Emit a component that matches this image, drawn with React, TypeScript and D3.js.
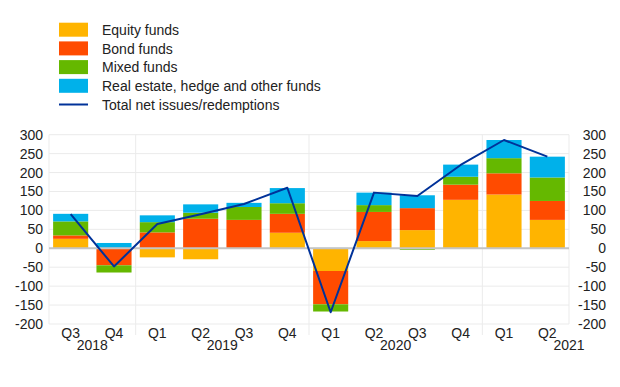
import * as d3 from 'd3';
import { useEffect, useRef } from 'react';

const quarters = ['Q3', 'Q4', 'Q1', 'Q2', 'Q3', 'Q4', 'Q1', 'Q2', 'Q3', 'Q4', 'Q1', 'Q2'];
const years = [
  { label: '2018', from: 0, to: 2 },
  { label: '2019', from: 2, to: 6 },
  { label: '2020', from: 6, to: 10 },
  { label: '2021', from: 10, to: 12 },
];

const equity = [25, 0, -24, -29, -1, 41, -60, 19, 48, 128, 142, 75];
const bond = [9, -45, 42, 78, 75, 50, -88, 77, 58, 40, 56, 50];
const mixed = [37, -19, 27, 16, 34, 28, -19, 18, -4, 21, 40, 62];
const realEstate = [20, 14, 18, 22, 11, 40, 1, 33, 34, 32, 48, 55];
const total = [90, -48, 64, 90, 117, 160, -169, 147, 138, 220, 286, 242];

const seriesKeys = ['equity', 'bond', 'mixed', 'real'];
const seriesNames = ['Equity funds', 'Bond funds', 'Mixed funds', 'Real estate, hedge and other funds'];
const colors = ['#ffb400', '#ff4b00', '#65b800', '#00b1ea'];
const lineColor = '#003299';

const yTicks = [300, 250, 200, 150, 100, 50, 0, -50, -100, -150, -200];

const W = 620;
const H = 387;
const font = '"Liberation Sans", Arial, sans-serif';

export default function App() {
  const svgRef = useRef<SVGSVGElement | null>(null);

  useEffect(() => {
    const svg = d3.select(svgRef.current);
    svg.selectAll('*').remove();

    const left = 49;
    const right = 569;
    const top = 134.7;
    const bottom = 324;

    const rows = quarters.map((q, i) => ({
      i,
      equity: equity[i],
      bond: bond[i],
      mixed: mixed[i],
      real: realEstate[i],
    }));

    const x = d3
      .scaleBand<number>()
      .domain(d3.range(quarters.length))
      .range([left, right])
      .paddingInner(0.19)
      .paddingOuter(0.095);
    const step = x.step();
    const center = (i: number) => (x(i) ?? 0) + x.bandwidth() / 2;

    const y = d3.scaleLinear().domain([-200, 300]).range([bottom, top]);

    const grid = svg.append('g');
    grid
      .selectAll('line.h')
      .data(yTicks)
      .enter()
      .append('line')
      .attr('x1', left)
      .attr('x2', right)
      .attr('y1', (d) => y(d))
      .attr('y2', (d) => y(d))
      .style('stroke', '#ebebeb')
      .style('stroke-width', 1);

    grid
      .selectAll('line.v')
      .data([0, 2, 6, 10, 12])
      .enter()
      .append('line')
      .attr('x1', (d) => left + d * step)
      .attr('x2', (d) => left + d * step)
      .attr('y1', top)
      .attr('y2', (d) => (d === 0 || d === 12 ? bottom : 335))
      .style('stroke', '#ebebeb')
      .style('stroke-width', 1);

    const stack = d3
      .stack<any>()
      .keys(seriesKeys)
      .offset(d3.stackOffsetDiverging);
    const layers = stack(rows);

    svg
      .append('g')
      .selectAll('g')
      .data(layers)
      .enter()
      .append('g')
      .style('fill', (_, k) => colors[k])
      .selectAll('rect')
      .data((d) => d)
      .enter()
      .append('rect')
      .attr('x', (_, i) => x(i) ?? 0)
      .attr('width', x.bandwidth())
      .attr('y', (d) => y(Math.max(d[0], d[1])))
      .attr('height', (d) => Math.abs(y(d[0]) - y(d[1])));

    svg
      .append('line')
      .attr('x1', left)
      .attr('x2', right)
      .attr('y1', y(0))
      .attr('y2', y(0))
      .style('stroke', '#c4c4c4')
      .style('stroke-width', 2);

    const line = d3
      .line<number>()
      .x((_, i) => center(i))
      .y((d) => y(d));
    svg
      .append('path')
      .datum(total)
      .attr('d', line)
      .style('fill', 'none')
      .style('stroke', lineColor)
      .style('stroke-width', 2)
      .style('stroke-linejoin', 'round');

    const labels = svg.append('g').style('font-family', font).style('font-size', '14px').style('fill', '#222');

    labels
      .selectAll('text.yl')
      .data(yTicks)
      .enter()
      .append('text')
      .attr('x', 43)
      .attr('y', (d) => y(d) + 5)
      .attr('text-anchor', 'end')
      .text((d) => d);

    labels
      .selectAll('text.yr')
      .data(yTicks)
      .enter()
      .append('text')
      .attr('x', 606)
      .attr('y', (d) => y(d) + 5)
      .attr('text-anchor', 'end')
      .text((d) => d);

    labels
      .selectAll('text.q')
      .data(quarters)
      .enter()
      .append('text')
      .attr('x', (_, i) => center(i))
      .attr('y', 338)
      .attr('text-anchor', 'middle')
      .text((d) => d);

    labels
      .selectAll('text.yr-label')
      .data(years)
      .enter()
      .append('text')
      .attr('x', (d) => (d.to === 12 ? right : left + ((d.from + d.to) / 2) * step))
      .attr('y', 350)
      .attr('text-anchor', 'middle')
      .text((d) => d.label);

    // legend
    const legend = svg.append('g').style('font-family', font).style('font-size', '14px').style('fill', '#222');
    const rowH = 18.7;
    seriesNames.forEach((name, k) => {
      legend
        .append('rect')
        .attr('x', 59)
        .attr('y', 22.7 + k * rowH)
        .attr('width', 29)
        .attr('height', 14)
        .style('fill', colors[k]);
      legend
        .append('text')
        .attr('x', 102)
        .attr('y', 35 + k * rowH)
        .text(name);
    });
    legend
      .append('line')
      .attr('x1', 59)
      .attr('x2', 88)
      .attr('y1', 22.7 + 4 * rowH + 7)
      .attr('y2', 22.7 + 4 * rowH + 7)
      .style('stroke', lineColor)
      .style('stroke-width', 2);
    legend
      .append('text')
      .attr('x', 102)
      .attr('y', 35 + 4 * rowH)
      .text('Total net issues/redemptions');
  }, []);

  return (
    <svg
      ref={svgRef}
      width={W}
      height={H}
      style={{ position: 'absolute', left: 0, top: 0, background: '#fff' }}
    />
  );
}
